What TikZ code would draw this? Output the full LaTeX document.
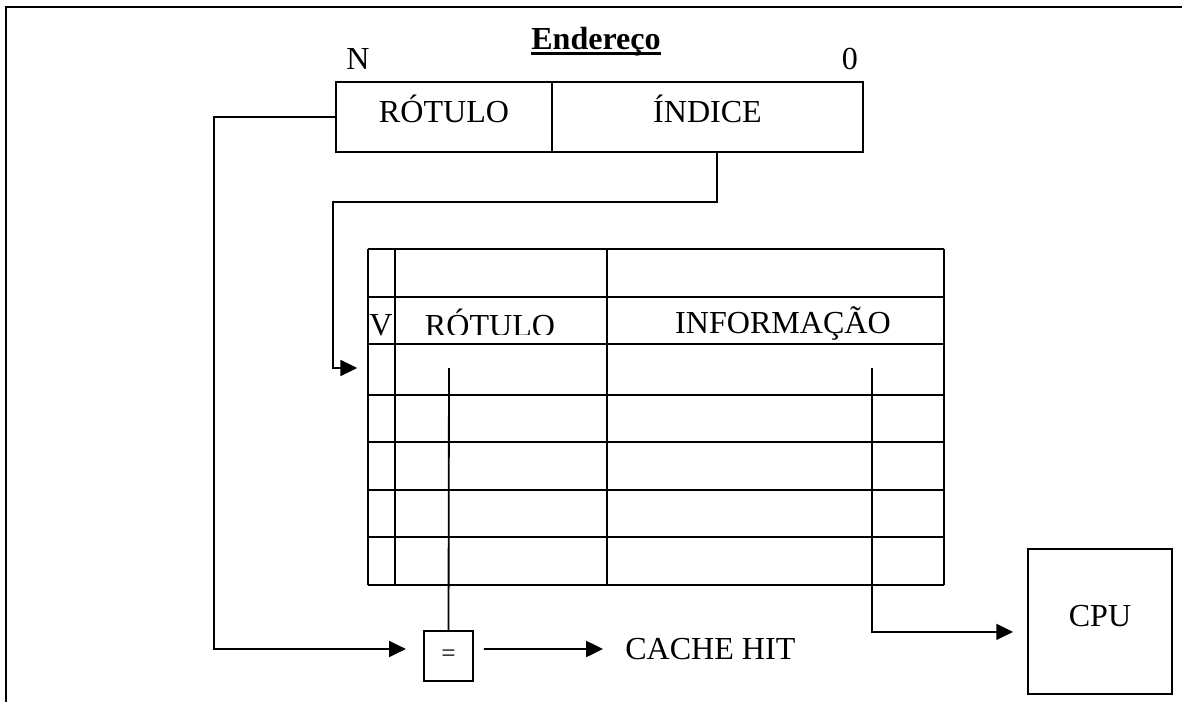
\documentclass[tikz,border=0pt]{standalone}
\usepackage{fontspec}
\setmainfont{Liberation Serif}
\usetikzlibrary{arrows.meta}

\tikzset{
  wire/.style={line width=1.3pt},
  flow/.style={wire, -{Triangle[length=0.42cm,width=0.4cm]}},
  field/.style={draw, wire, inner sep=0pt, minimum height=1.75cm, text height=0.53cm, text depth=0.27cm},
}

\begin{document}
\begin{tikzpicture}[x=0.025cm, y=-0.025cm, font=\fontsize{22.8}{27}\selectfont]
  \useasboundingbox (0,0) rectangle (1182,702);
  \draw[wire] (6,702) -- (6,7) -- (1182,7);

  % address
  \node[inner sep=0pt, anchor=base, font=\fontsize{22.8}{27}\selectfont\bfseries] (title) at (596,50) {Endereço};
  \draw[line width=2.2pt] ([yshift=-0.085cm]title.base west) -- ([yshift=-0.085cm]title.base east);
  \node[anchor=base] (msb) at (358,70) {N};
  \node[anchor=base] (lsb) at (850,70) {0};
  \node[field, minimum width=5.4cm] (rotulo) at (444,117) {RÓTULO};
  \node[field, minimum width=7.775cm] (indice) at (707.5,117) {ÍNDICE};

  % cache table
  \foreach \y in {249,297,344,395,442,490,537,585}
    \draw[wire] (368,\y) -- (944,\y);
  \foreach \x in {368,395,607,944}
    \draw[wire] (\x,249) -- (\x,585);
  \node[anchor=base] (vbit) at (381,335) {V};
  \node[anchor=base] (info) at (783,333) {INFORMAÇÃO};
  \begin{scope}
    \clip (396,300) rectangle (606,334);
    \node[anchor=base] (tag) at (490,336) {RÓTULO};
  \end{scope}
  \coordinate (slot) at (368,368);
  \coordinate (tagtop) at (449,368);
  \coordinate (datatop) at (872,368);

  % compare and output
  \node[draw, wire, minimum width=1.225cm, minimum height=1.25cm, inner sep=0pt, font=\fontsize{18}{20}\selectfont] (eq) at (448.5,656) {=};
  \node[anchor=west, inner sep=0pt] (hit) at (625,649) {CACHE HIT};
  \node[field, minimum width=3.6cm, minimum height=3.625cm] (cpu) at (1100,621.5) {CPU};

  \draw[flow, shorten >=0.43cm] (rotulo.west) -- ++(-121,0) |- ([yshift=0.175cm]eq.west);
  \draw[flow, shorten >=0.27cm] ([xshift=0.24cm]indice.south) -- ++(0,49) -- ++(-384,0) |- (slot);
  \draw[wire] (tagtop) -- (eq.north);
  \draw[flow, shorten <=0.25cm, shorten >=0.55cm] ([yshift=0.175cm]eq.east) -- (hit.west);
  \draw[flow, shorten >=0.35cm] (datatop) |- ([yshift=-0.26cm]cpu.west);
\end{tikzpicture}
\end{document}
